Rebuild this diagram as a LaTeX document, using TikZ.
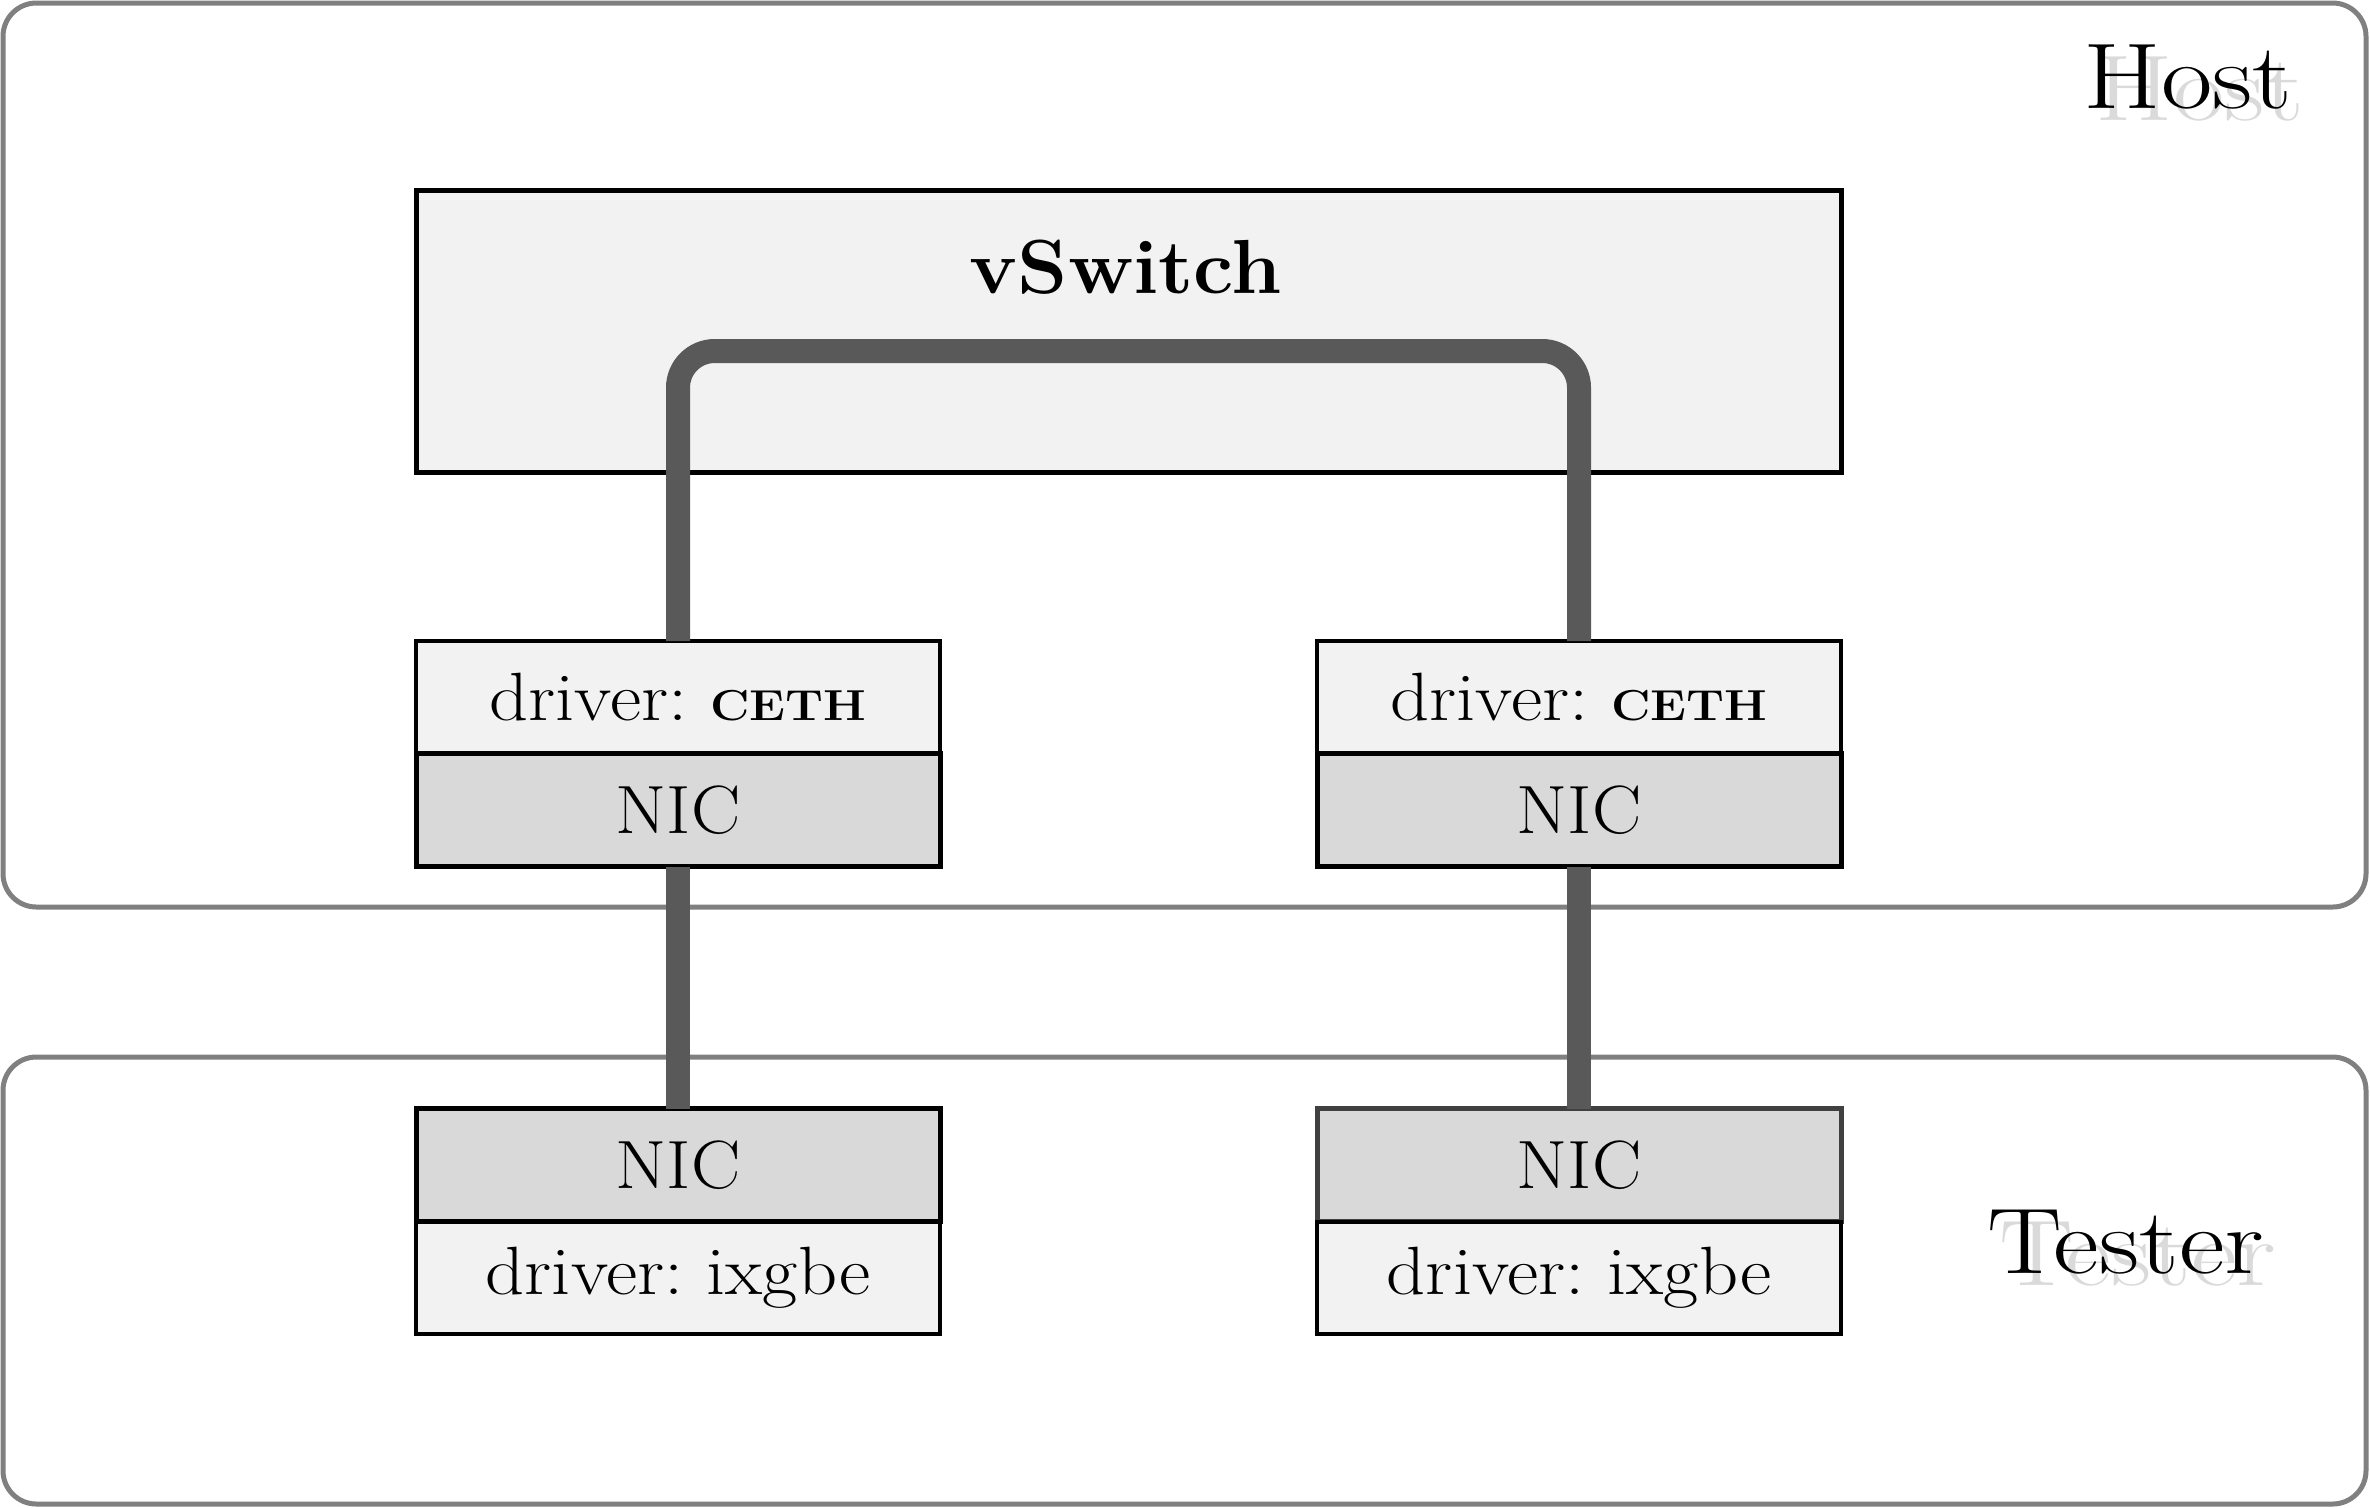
\documentclass[tikz,border=0pt]{standalone}
\usepackage{fontspec}
\usepackage{graphicx}
\frenchspacing
\definecolor{boxfill}{HTML}{F2F2F2}
\definecolor{nicfill}{HTML}{D9D9D9}
\definecolor{linkgray}{HTML}{595959}
\definecolor{framegray}{HTML}{808080}
\definecolor{shadowgray}{HTML}{DADADA}
\newcommand{\widen}[2]{\scalebox{#1}[1]{#2}}
\tikzset{
  frame/.style={draw=framegray, line width=1.5pt, rounded corners=10pt, fill=white, inner sep=0pt, outer sep=0pt},
  drvbox/.style={draw=black, line width=1pt, fill=boxfill, inner sep=0pt, outer sep=0pt,
    minimum width=157.2pt, minimum height=33.6pt, font=\fontsize{20.5}{24}\selectfont},
  nicbox/.style={draw=black, line width=1.5pt, fill=nicfill, inner sep=0pt, outer sep=0pt,
    minimum width=157.2pt, minimum height=33.9pt, font=\fontsize{20.5}{24}\selectfont},
  link/.style={draw=linkgray, line width=7.2pt, rounded corners=11pt},
  biglabel/.style={anchor=base west, inner sep=0pt, font=\fontsize{28}{34}\selectfont},
}
\newcommand{\ceth}{{\fontsize{13}{15}\selectfont\bfseries CETH}}
\begin{document}
\begin{tikzpicture}[x=0.3pt, y=-0.3pt]
\useasboundingbox (0,0) rectangle (2370,1507);
% frames
\node[frame, minimum width=708.9pt, minimum height=271.2pt] (host) at (1184.5,455) {};
\node[frame, minimum width=708.9pt, minimum height=134.1pt] (tester) at (1184.5,1280.5) {};
% frame labels with shadow
\node[biglabel, text=shadowgray] (hostsh) at (2095,120) {\widen{1.2}{Host}};
\node[biglabel] (hostlbl) at (2083,108) {\widen{1.2}{Host}};
\node[biglabel, text=shadowgray] (testersh) at (1999,1285) {\widen{1.2}{Tester}};
\node[biglabel] (testerlbl) at (1987,1273) {\widen{1.2}{Tester}};
% vSwitch
\node[draw=black, line width=1.5pt, fill=boxfill, inner sep=0pt, outer sep=0pt,
  minimum width=427.5pt, minimum height=84.6pt] (vsw) at (1128.5,331) {};
\node[font=\fontsize{23}{27}\selectfont\bfseries, inner sep=0pt] (vswlbl) at (1126,267) {\widen{1.05}{vSwitch}};
% host side drivers/NICs
\node[drvbox] (drvL) at (678,697) {\widen{1.12}{driver: \ceth}};
\node[nicbox] (nicL) at (678,810) {\widen{1.08}{NIC}};
\node[drvbox] (drvR) at (1579,697) {\widen{1.12}{driver: \ceth}};
\node[nicbox] (nicR) at (1579,810) {\widen{1.08}{NIC}};
% tester side
\node[nicbox] (tnicL) at (678,1165) {\widen{1.08}{NIC}};
\node[drvbox] (tdrvL) at (678,1278) {\widen{1.12}{driver: ixgbe}};
\node[nicbox, draw={black!75}] (tnicR) at (1579,1165) {\widen{1.08}{NIC}};
\node[drvbox] (tdrvR) at (1579,1278) {\widen{1.12}{driver: ixgbe}};
% links
\coordinate (toprow) at (0,351);
\draw[link] (drvL.north) -- (drvL.north |- toprow) -- (drvR.north |- toprow) -- (drvR.north);
\draw[link] (nicL.south) -- (tnicL.north);
\draw[link] (nicR.south) -- (tnicR.north);
\end{tikzpicture}
\end{document}
